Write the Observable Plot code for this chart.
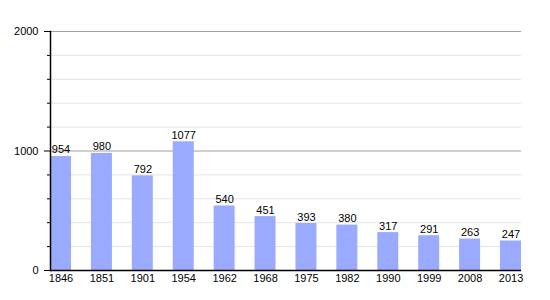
<!DOCTYPE html>
<html>
<head>
<meta charset="utf-8">
<script src="https://cdn.jsdelivr.net/npm/d3@7"></script>
<script src="https://cdn.jsdelivr.net/npm/@observablehq/plot@0.6"></script>
<style>
body { margin: 0; background: #fff; }
</style>
</head>
<body>
<div id="chart"></div>
<script>
const years = ["1846","1851","1901","1954","1962","1968","1975","1982","1990","1999","2008","2013"];
const population = [954, 980, 792, 1077, 540, 451, 393, 380, 317, 291, 263, 247];
const majorTicks = [0, 1000, 2000];
const minorTicks = [200, 400, 600, 800, 1200, 1400, 1600, 1800];

const data = years.map((y, i) => ({year: y, value: population[i]}));

const chart = Plot.plot({
  width: 550,
  height: 300,
  marginLeft: 50,
  marginRight: 29,
  marginTop: 31,
  marginBottom: 30,
  style: {fontFamily: "Liberation Sans, Arial, sans-serif", fontSize: "11px", color: "#000", background: "#fff"},
  x: {domain: years, padding: 0.487, paddingInner: 0.487, paddingOuter: 0, align: 0, round: false, label: null},
  y: {domain: [0, 2000], label: null},
  marks: [
    Plot.gridY(minorTicks, {stroke: "#e4e4e4", strokeOpacity: 1}),
    Plot.gridY([1000, 2000], {stroke: "#a0a0a0", strokeOpacity: 1}),
    Plot.barY(data, {x: "year", y: "value", fill: "#99aaff"}),
    Plot.text(data, {x: "year", y: "value", text: d => String(d.value), lineAnchor: "bottom", dy: -3, fill: "#000", fontSize: 11}),
    Plot.axisY(majorTicks, {tickSize: 6, tickPadding: 6, tickFormat: d3.format("d"), stroke: "#000", fontSize: 11, label: null}),
    Plot.axisY(minorTicks, {tickSize: 3, text: null, stroke: "#000", label: null}),
    Plot.axisX({tickSize: 0, tickPadding: 4, fontSize: 11, label: null}),
    Plot.ruleY([0], {stroke: "#000", strokeWidth: 1.5}),
    Plot.frame({anchor: "left", stroke: "#000", strokeWidth: 1.5})
  ]
});
document.getElementById("chart").appendChild(chart);
</script>
</body>
</html>
